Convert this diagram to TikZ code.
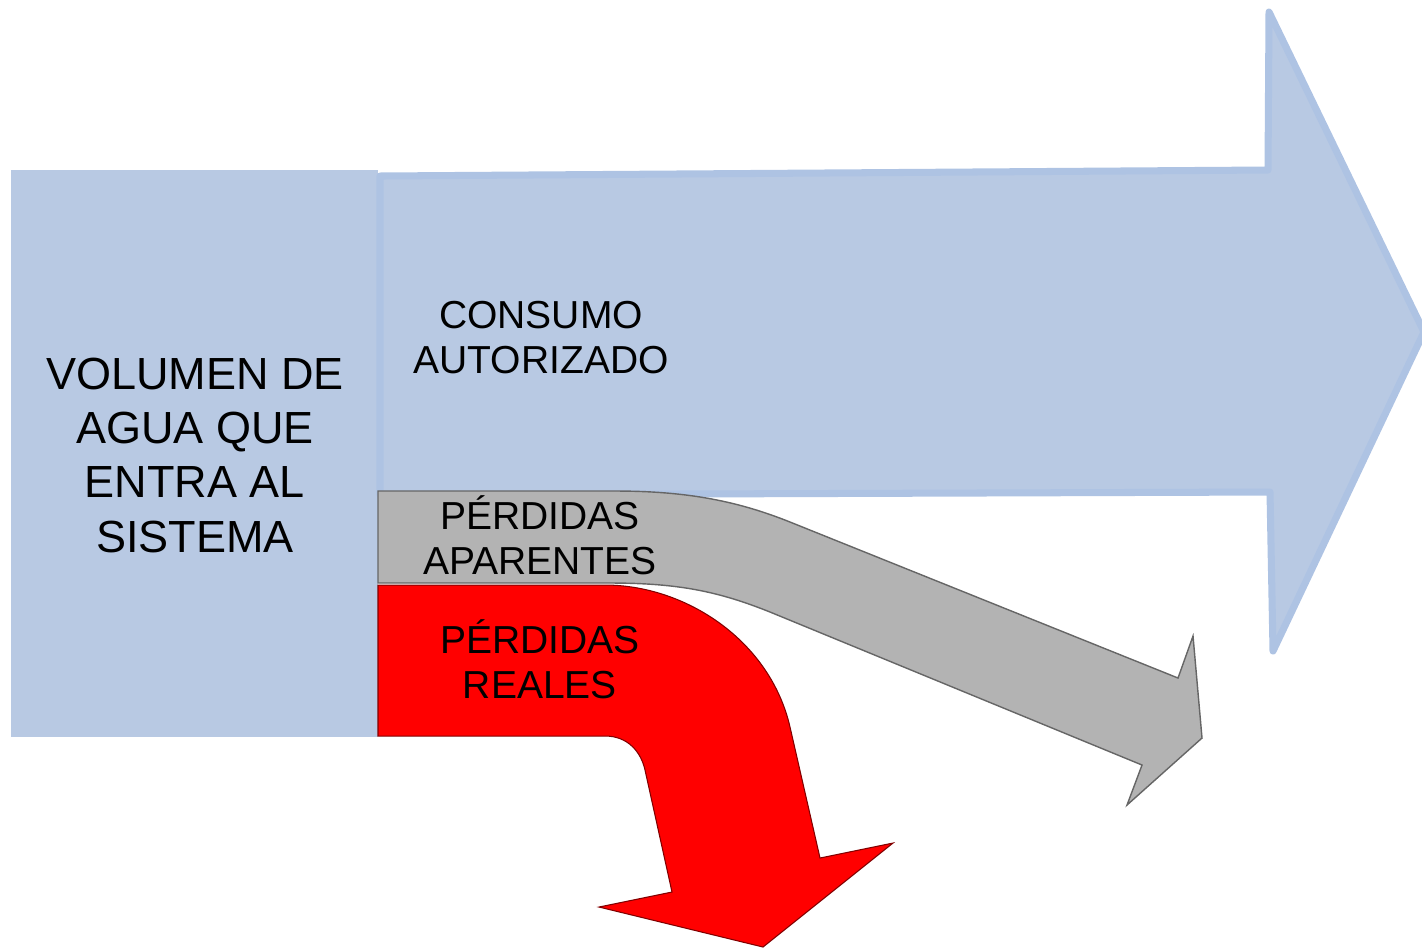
\documentclass[tikz,border=0pt]{standalone}
\usepackage{fontspec}
\setmainfont{Liberation Sans}
\usepackage{tikz}

\definecolor{inflow}{HTML}{B8C9E3}
\definecolor{inflowline}{HTML}{AEC3E3}
\definecolor{apparent}{HTML}{B3B3B3}

\begin{document}
\begin{tikzpicture}[x=0.01cm, y=-0.01cm,
  bigtext/.style={font=\fontsize{12.8}{15.4}\selectfont, align=center, anchor=base, inner sep=0pt},
  smalltext/.style={font=\fontsize{11.1}{12.8}\selectfont, align=center, anchor=base, inner sep=0pt}]
\useasboundingbox (0,0) rectangle (1422,947);
% input volume
\fill [inflow] (11,170) rectangle (378,737);
% authorised consumption
\draw [fill=inflow, draw=inflowline, line width=2pt, line join=round] (380,176) -- (1268,170) -- (1269,12) -- (1424,332) -- (1273,651) -- (1270,492) -- (380,495) -- cycle;
% apparent losses
\draw [fill=apparent, draw=black!60, line width=0.4pt] (378,491) -- (615,491) .. controls (690,491) and (740,502) .. (790,522) -- (1178,678) -- (1193,636) -- (1202,738) -- (1127,805) -- (1142,765) -- (770,612) .. controls (720,592) and (680,583) .. (610,583) -- (378,583) -- cycle;
% real losses
\draw [fill=red, draw=red!50!black, line width=0.3pt] (378,585) -- (605,585) .. controls (685,585) and (770,640) .. (790,727) -- (820,858) -- (893,843) -- (763,947) -- (599,907) -- (672,892) -- (645,770) .. controls (641,752) and (628,736) .. (605,736) -- (378,736) -- cycle;
% labels, placed at the baseline of their last line
\node [bigtext] (volumen) at (195,552) {VOLUMEN DE\\AGUA QUE\\ENTRA AL\\SISTEMA};
\node [smalltext] (consumo) at (541,373) {CONSUMO\\AUTORIZADO};
\node [smalltext] (aparentes) at (540,574) {PÉRDIDAS\\APARENTES};
\node [smalltext] (reales) at (540,698) {PÉRDIDAS\\REALES};
\end{tikzpicture}
\end{document}
